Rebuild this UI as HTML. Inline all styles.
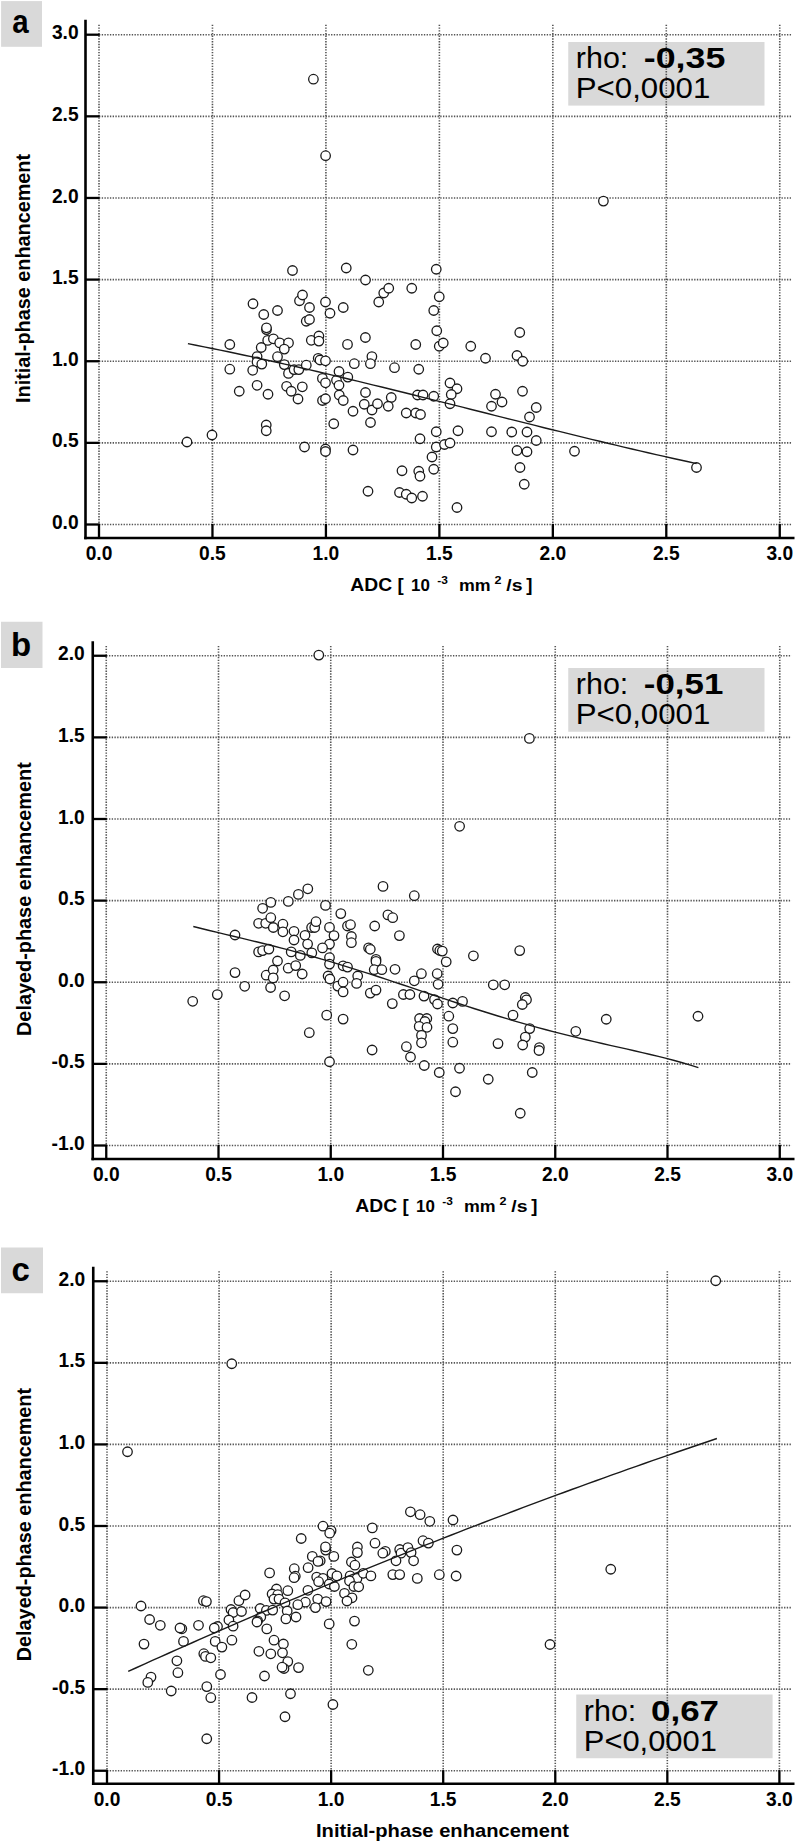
<!DOCTYPE html>
<html><head><meta charset="utf-8"><title>Scatter plots</title>
<style>
html,body{margin:0;padding:0;background:#fff;}
svg{display:block;}
text{font-family:"Liberation Sans", sans-serif;fill:#000;}
.tk{font-size:20px;font-weight:bold;}
.ttl{font-size:18.5px;font-weight:bold;}
circle{fill:#fff;stroke:#1a1a1a;stroke-width:1.3;}
</style></head><body>
<svg width="796" height="1843" viewBox="0 0 796 1843">
<rect width="796" height="1843" fill="#fff"/>
<rect x="1.1" y="1.1" width="40.9" height="45.7" fill="#d9d9d9"/>
<text x="12.2" y="32.7" font-size="33" font-weight="bold" textLength="16.4" lengthAdjust="spacingAndGlyphs">a</text>
<rect x="568.25" y="42" width="196.25" height="63.6" fill="#d9d9d9"/>
<line x1="99" y1="524.5" x2="791.5" y2="524.5" stroke="#555" stroke-width="1.6" stroke-dasharray="1.35 1.38"/>
<line x1="99" y1="442.87" x2="791.5" y2="442.87" stroke="#555" stroke-width="1.6" stroke-dasharray="1.35 1.38"/>
<line x1="99" y1="361.23" x2="791.5" y2="361.23" stroke="#555" stroke-width="1.6" stroke-dasharray="1.35 1.38"/>
<line x1="99" y1="279.6" x2="791.5" y2="279.6" stroke="#555" stroke-width="1.6" stroke-dasharray="1.35 1.38"/>
<line x1="99" y1="197.97" x2="791.5" y2="197.97" stroke="#555" stroke-width="1.6" stroke-dasharray="1.35 1.38"/>
<line x1="99" y1="116.33" x2="791.5" y2="116.33" stroke="#555" stroke-width="1.6" stroke-dasharray="1.35 1.38"/>
<line x1="99" y1="34.7" x2="791.5" y2="34.7" stroke="#555" stroke-width="1.6" stroke-dasharray="1.35 1.38"/>
<line x1="99" y1="24.7" x2="99" y2="524.5" stroke="#555" stroke-width="1.6" stroke-dasharray="1.35 1.38"/>
<line x1="212.46" y1="24.7" x2="212.46" y2="524.5" stroke="#555" stroke-width="1.6" stroke-dasharray="1.35 1.38"/>
<line x1="325.92" y1="24.7" x2="325.92" y2="524.5" stroke="#555" stroke-width="1.6" stroke-dasharray="1.35 1.38"/>
<line x1="439.38" y1="24.7" x2="439.38" y2="524.5" stroke="#555" stroke-width="1.6" stroke-dasharray="1.35 1.38"/>
<line x1="552.83" y1="24.7" x2="552.83" y2="524.5" stroke="#555" stroke-width="1.6" stroke-dasharray="1.35 1.38"/>
<line x1="666.29" y1="24.7" x2="666.29" y2="524.5" stroke="#555" stroke-width="1.6" stroke-dasharray="1.35 1.38"/>
<line x1="779.75" y1="24.7" x2="779.75" y2="524.5" stroke="#555" stroke-width="1.6" stroke-dasharray="1.35 1.38"/>
<text x="575.8" y="68.25" font-size="29" textLength="52.5" lengthAdjust="spacingAndGlyphs">rho:</text><text x="643.8" y="68.25" font-size="29" font-weight="bold" textLength="81.5" lengthAdjust="spacingAndGlyphs">-0,35</text><text x="575.8" y="97.5" font-size="29" textLength="134.5" lengthAdjust="spacingAndGlyphs">P&lt;0,0001</text>
<circle cx="313.4" cy="79.2" r="4.75"/>
<circle cx="325.6" cy="155.7" r="4.75"/>
<circle cx="603.4" cy="201.1" r="4.75"/>
<circle cx="292.5" cy="270.5" r="4.75"/>
<circle cx="253" cy="303.75" r="4.75"/>
<circle cx="277.5" cy="310.5" r="4.75"/>
<circle cx="263.75" cy="314.5" r="4.75"/>
<circle cx="266.5" cy="329.6" r="4.75"/>
<circle cx="266.5" cy="327.8" r="4.75"/>
<circle cx="229.8" cy="344.5" r="4.75"/>
<circle cx="267.7" cy="340.4" r="4.75"/>
<circle cx="273.4" cy="338.8" r="4.75"/>
<circle cx="279.7" cy="342.9" r="4.75"/>
<circle cx="288.5" cy="342.9" r="4.75"/>
<circle cx="261.2" cy="347.5" r="4.75"/>
<circle cx="284.3" cy="349.1" r="4.75"/>
<circle cx="257.1" cy="356.6" r="4.75"/>
<circle cx="277.5" cy="356.7" r="4.75"/>
<circle cx="257" cy="362" r="4.75"/>
<circle cx="261.8" cy="364.1" r="4.75"/>
<circle cx="229.8" cy="369.2" r="4.75"/>
<circle cx="252.7" cy="370.3" r="4.75"/>
<circle cx="284.3" cy="364.6" r="4.75"/>
<circle cx="288.5" cy="373.4" r="4.75"/>
<circle cx="294.1" cy="369.6" r="4.75"/>
<circle cx="298.8" cy="369.6" r="4.75"/>
<circle cx="257.1" cy="385.3" r="4.75"/>
<circle cx="286.6" cy="386.3" r="4.75"/>
<circle cx="346.25" cy="268" r="4.75"/>
<circle cx="365.5" cy="280" r="4.75"/>
<circle cx="436.25" cy="269.25" r="4.75"/>
<circle cx="299.5" cy="300.75" r="4.75"/>
<circle cx="302.5" cy="295" r="4.75"/>
<circle cx="309.5" cy="307.5" r="4.75"/>
<circle cx="325.5" cy="302" r="4.75"/>
<circle cx="330" cy="313.25" r="4.75"/>
<circle cx="343.25" cy="307.5" r="4.75"/>
<circle cx="306.25" cy="321.25" r="4.75"/>
<circle cx="309.5" cy="319.5" r="4.75"/>
<circle cx="378.75" cy="302" r="4.75"/>
<circle cx="383.75" cy="293" r="4.75"/>
<circle cx="388.75" cy="288.25" r="4.75"/>
<circle cx="411.75" cy="288.25" r="4.75"/>
<circle cx="439.25" cy="296.75" r="4.75"/>
<circle cx="433.75" cy="310.5" r="4.75"/>
<circle cx="436.75" cy="330.75" r="4.75"/>
<circle cx="311.3" cy="340.3" r="4.75"/>
<circle cx="318.9" cy="336" r="4.75"/>
<circle cx="318.9" cy="341.1" r="4.75"/>
<circle cx="347.5" cy="344.4" r="4.75"/>
<circle cx="365.4" cy="337.5" r="4.75"/>
<circle cx="415.75" cy="344.5" r="4.75"/>
<circle cx="439.25" cy="346.25" r="4.75"/>
<circle cx="443.25" cy="343" r="4.75"/>
<circle cx="470.75" cy="346.25" r="4.75"/>
<circle cx="485.5" cy="358.25" r="4.75"/>
<circle cx="318.2" cy="358.3" r="4.75"/>
<circle cx="320" cy="360" r="4.75"/>
<circle cx="325.5" cy="360.8" r="4.75"/>
<circle cx="306.3" cy="365.2" r="4.75"/>
<circle cx="354.3" cy="363.7" r="4.75"/>
<circle cx="371.9" cy="356.6" r="4.75"/>
<circle cx="370.4" cy="363.7" r="4.75"/>
<circle cx="394.5" cy="367.7" r="4.75"/>
<circle cx="418.75" cy="369.25" r="4.75"/>
<circle cx="339" cy="371.5" r="4.75"/>
<circle cx="322.4" cy="378.4" r="4.75"/>
<circle cx="325.5" cy="382.8" r="4.75"/>
<circle cx="347.8" cy="377.1" r="4.75"/>
<circle cx="336.5" cy="380.3" r="4.75"/>
<circle cx="339" cy="385.3" r="4.75"/>
<circle cx="302.3" cy="386.8" r="4.75"/>
<circle cx="450" cy="383" r="4.75"/>
<circle cx="457" cy="388.75" r="4.75"/>
<circle cx="519.75" cy="332.5" r="4.75"/>
<circle cx="517" cy="355.5" r="4.75"/>
<circle cx="522.75" cy="361.25" r="4.75"/>
<circle cx="239.25" cy="391.25" r="4.75"/>
<circle cx="268" cy="394.25" r="4.75"/>
<circle cx="291.25" cy="391.25" r="4.75"/>
<circle cx="298" cy="399" r="4.75"/>
<circle cx="266.25" cy="425" r="4.75"/>
<circle cx="266.25" cy="430.75" r="4.75"/>
<circle cx="212" cy="435" r="4.75"/>
<circle cx="187" cy="442" r="4.75"/>
<circle cx="322.5" cy="400.5" r="4.75"/>
<circle cx="325.5" cy="398.75" r="4.75"/>
<circle cx="339.25" cy="395" r="4.75"/>
<circle cx="343.25" cy="400.5" r="4.75"/>
<circle cx="365.5" cy="392.5" r="4.75"/>
<circle cx="353" cy="411.25" r="4.75"/>
<circle cx="364.25" cy="404.25" r="4.75"/>
<circle cx="372" cy="410" r="4.75"/>
<circle cx="377.5" cy="403.75" r="4.75"/>
<circle cx="391.25" cy="397.5" r="4.75"/>
<circle cx="388.25" cy="406.25" r="4.75"/>
<circle cx="370.5" cy="422.5" r="4.75"/>
<circle cx="333.75" cy="423.75" r="4.75"/>
<circle cx="406.25" cy="413" r="4.75"/>
<circle cx="415.75" cy="413" r="4.75"/>
<circle cx="420.5" cy="414.5" r="4.75"/>
<circle cx="417.5" cy="395" r="4.75"/>
<circle cx="423" cy="395" r="4.75"/>
<circle cx="433.75" cy="396.25" r="4.75"/>
<circle cx="451.25" cy="394.5" r="4.75"/>
<circle cx="450" cy="403.75" r="4.75"/>
<circle cx="436.25" cy="431.75" r="4.75"/>
<circle cx="458" cy="430.75" r="4.75"/>
<circle cx="420" cy="438.75" r="4.75"/>
<circle cx="304.5" cy="447" r="4.75"/>
<circle cx="325.5" cy="449" r="4.75"/>
<circle cx="325.5" cy="451.5" r="4.75"/>
<circle cx="353" cy="450" r="4.75"/>
<circle cx="436.25" cy="447" r="4.75"/>
<circle cx="444.5" cy="444.5" r="4.75"/>
<circle cx="450" cy="443" r="4.75"/>
<circle cx="432" cy="457" r="4.75"/>
<circle cx="433.75" cy="469.25" r="4.75"/>
<circle cx="402" cy="470.75" r="4.75"/>
<circle cx="418.75" cy="471.25" r="4.75"/>
<circle cx="420" cy="476.25" r="4.75"/>
<circle cx="368" cy="491.25" r="4.75"/>
<circle cx="399.5" cy="492.5" r="4.75"/>
<circle cx="406.25" cy="494.25" r="4.75"/>
<circle cx="411.75" cy="498" r="4.75"/>
<circle cx="422.5" cy="496.25" r="4.75"/>
<circle cx="457" cy="507.5" r="4.75"/>
<circle cx="495.5" cy="394.25" r="4.75"/>
<circle cx="491.5" cy="406.25" r="4.75"/>
<circle cx="522.5" cy="391.25" r="4.75"/>
<circle cx="502" cy="402" r="4.75"/>
<circle cx="536.25" cy="407.5" r="4.75"/>
<circle cx="529.5" cy="417" r="4.75"/>
<circle cx="491.5" cy="431.75" r="4.75"/>
<circle cx="511.75" cy="432" r="4.75"/>
<circle cx="527" cy="432" r="4.75"/>
<circle cx="536.25" cy="440.5" r="4.75"/>
<circle cx="517" cy="450.5" r="4.75"/>
<circle cx="527" cy="451.75" r="4.75"/>
<circle cx="574.5" cy="451.25" r="4.75"/>
<circle cx="520" cy="467.5" r="4.75"/>
<circle cx="524.25" cy="484.25" r="4.75"/>
<circle cx="696.5" cy="467.5" r="4.75"/>
<polyline points="187.9,343.68 195.97,345.25 204.05,346.85 212.12,348.47 220.19,350.12 228.27,351.79 236.34,353.49 244.41,355.2 252.48,356.94 260.56,358.7 268.63,360.48 276.7,362.28 284.78,364.09 292.85,365.93 300.92,367.78 309,369.65 317.07,371.53 325.14,373.42 333.21,375.34 341.29,377.26 349.36,379.2 357.43,381.14 365.51,383.1 373.58,385.07 381.65,387.05 389.73,389.04 397.8,391.03 405.87,393.04 413.94,395.05 422.02,397.06 430.09,399.08 438.16,401.1 446.24,403.13 454.31,405.16 462.38,407.19 470.46,409.22 478.53,411.26 486.6,413.29 494.67,415.32 502.75,417.35 510.82,419.38 518.89,421.4 526.97,423.42 535.04,425.44 543.11,427.45 551.19,429.45 559.26,431.44 567.33,433.43 575.4,435.41 583.48,437.38 591.55,439.34 599.62,441.29 607.7,443.23 615.77,445.15 623.84,447.07 631.92,448.97 639.99,450.85 648.06,452.72 656.13,454.57 664.21,456.41 672.28,458.22 680.35,460.02 688.43,461.8 696.5,463.56" fill="none" stroke="#1a1a1a" stroke-width="1.4"/>
<line x1="85.5" y1="19.8" x2="85.5" y2="539.3" stroke="#000" stroke-width="2.6"/>
<line x1="84.2" y1="538" x2="794.5" y2="538" stroke="#000" stroke-width="2.6"/>
<line x1="85.5" y1="524.5" x2="99.6" y2="524.5" stroke="#000" stroke-width="2.3"/>
<line x1="85.5" y1="442.87" x2="99.6" y2="442.87" stroke="#000" stroke-width="2.3"/>
<line x1="85.5" y1="361.23" x2="99.6" y2="361.23" stroke="#000" stroke-width="2.3"/>
<line x1="85.5" y1="279.6" x2="99.6" y2="279.6" stroke="#000" stroke-width="2.3"/>
<line x1="85.5" y1="197.97" x2="99.6" y2="197.97" stroke="#000" stroke-width="2.3"/>
<line x1="85.5" y1="116.33" x2="99.6" y2="116.33" stroke="#000" stroke-width="2.3"/>
<line x1="85.5" y1="34.7" x2="99.6" y2="34.7" stroke="#000" stroke-width="2.3"/>
<line x1="99" y1="538" x2="99" y2="523.9" stroke="#000" stroke-width="2.3"/>
<line x1="212.46" y1="538" x2="212.46" y2="523.9" stroke="#000" stroke-width="2.3"/>
<line x1="325.92" y1="538" x2="325.92" y2="523.9" stroke="#000" stroke-width="2.3"/>
<line x1="439.38" y1="538" x2="439.38" y2="523.9" stroke="#000" stroke-width="2.3"/>
<line x1="552.83" y1="538" x2="552.83" y2="523.9" stroke="#000" stroke-width="2.3"/>
<line x1="666.29" y1="538" x2="666.29" y2="523.9" stroke="#000" stroke-width="2.3"/>
<line x1="779.75" y1="538" x2="779.75" y2="523.9" stroke="#000" stroke-width="2.3"/>
<text x="78.6" y="529.1" text-anchor="end" class="tk" textLength="26.7" lengthAdjust="spacingAndGlyphs">0.0</text>
<text x="78.6" y="447.47" text-anchor="end" class="tk" textLength="26.7" lengthAdjust="spacingAndGlyphs">0.5</text>
<text x="78.6" y="365.83" text-anchor="end" class="tk" textLength="26.7" lengthAdjust="spacingAndGlyphs">1.0</text>
<text x="78.6" y="284.2" text-anchor="end" class="tk" textLength="26.7" lengthAdjust="spacingAndGlyphs">1.5</text>
<text x="78.6" y="202.57" text-anchor="end" class="tk" textLength="26.7" lengthAdjust="spacingAndGlyphs">2.0</text>
<text x="78.6" y="120.93" text-anchor="end" class="tk" textLength="26.7" lengthAdjust="spacingAndGlyphs">2.5</text>
<text x="78.6" y="39.3" text-anchor="end" class="tk" textLength="26.7" lengthAdjust="spacingAndGlyphs">3.0</text>
<text x="99" y="559.7" text-anchor="middle" class="tk" textLength="26.7" lengthAdjust="spacingAndGlyphs">0.0</text>
<text x="212.46" y="559.7" text-anchor="middle" class="tk" textLength="26.7" lengthAdjust="spacingAndGlyphs">0.5</text>
<text x="325.92" y="559.7" text-anchor="middle" class="tk" textLength="26.7" lengthAdjust="spacingAndGlyphs">1.0</text>
<text x="439.38" y="559.7" text-anchor="middle" class="tk" textLength="26.7" lengthAdjust="spacingAndGlyphs">1.5</text>
<text x="552.83" y="559.7" text-anchor="middle" class="tk" textLength="26.7" lengthAdjust="spacingAndGlyphs">2.0</text>
<text x="666.29" y="559.7" text-anchor="middle" class="tk" textLength="26.7" lengthAdjust="spacingAndGlyphs">2.5</text>
<text x="779.75" y="559.7" text-anchor="middle" class="tk" textLength="26.7" lengthAdjust="spacingAndGlyphs">3.0</text>
<text transform="translate(30.3,402.9) rotate(-90)" x="0" y="0" class="ttl" style="font-size:19.5px" textLength="249" lengthAdjust="spacingAndGlyphs">Initial-phase enhancement</text>
<text x="350.35" y="591.25" class="ttl" textLength="41.8" lengthAdjust="spacingAndGlyphs">ADC</text><text x="397.45" y="591.25" class="ttl" textLength="6.2" lengthAdjust="spacingAndGlyphs">[</text><text x="411.05" y="591.25" class="ttl" style="font-size:16.5px" textLength="18.8" lengthAdjust="spacingAndGlyphs">10</text><text x="437.25" y="584.45" class="ttl" style="font-size:11px" textLength="10.6" lengthAdjust="spacingAndGlyphs">-3</text><text x="459.05" y="591.25" class="ttl" style="font-size:16.5px" textLength="31.6" lengthAdjust="spacingAndGlyphs">mm</text><text x="494.45" y="584.45" class="ttl" style="font-size:11px" textLength="7.0" lengthAdjust="spacingAndGlyphs">2</text><text x="506.25" y="591.25" class="ttl" style="font-size:16.5px" textLength="16.2" lengthAdjust="spacingAndGlyphs">/s</text><text x="526.25" y="591.25" class="ttl" textLength="6.2" lengthAdjust="spacingAndGlyphs">]</text>
<rect x="1" y="621.75" width="41.5" height="46.25" fill="#d9d9d9"/>
<text x="11" y="655.75" font-size="33" font-weight="bold">b</text>
<rect x="568.25" y="668" width="196.25" height="63.75" fill="#d9d9d9"/>
<line x1="106.25" y1="1145.5" x2="791.5" y2="1145.5" stroke="#555" stroke-width="1.6" stroke-dasharray="1.35 1.38"/>
<line x1="106.25" y1="1063.88" x2="791.5" y2="1063.88" stroke="#555" stroke-width="1.6" stroke-dasharray="1.35 1.38"/>
<line x1="106.25" y1="982.25" x2="791.5" y2="982.25" stroke="#555" stroke-width="1.6" stroke-dasharray="1.35 1.38"/>
<line x1="106.25" y1="900.62" x2="791.5" y2="900.62" stroke="#555" stroke-width="1.6" stroke-dasharray="1.35 1.38"/>
<line x1="106.25" y1="819" x2="791.5" y2="819" stroke="#555" stroke-width="1.6" stroke-dasharray="1.35 1.38"/>
<line x1="106.25" y1="737.38" x2="791.5" y2="737.38" stroke="#555" stroke-width="1.6" stroke-dasharray="1.35 1.38"/>
<line x1="106.25" y1="655.75" x2="791.5" y2="655.75" stroke="#555" stroke-width="1.6" stroke-dasharray="1.35 1.38"/>
<line x1="106.25" y1="646" x2="106.25" y2="1145.5" stroke="#555" stroke-width="1.6" stroke-dasharray="1.35 1.38"/>
<line x1="218.5" y1="646" x2="218.5" y2="1145.5" stroke="#555" stroke-width="1.6" stroke-dasharray="1.35 1.38"/>
<line x1="330.75" y1="646" x2="330.75" y2="1145.5" stroke="#555" stroke-width="1.6" stroke-dasharray="1.35 1.38"/>
<line x1="443" y1="646" x2="443" y2="1145.5" stroke="#555" stroke-width="1.6" stroke-dasharray="1.35 1.38"/>
<line x1="555.25" y1="646" x2="555.25" y2="1145.5" stroke="#555" stroke-width="1.6" stroke-dasharray="1.35 1.38"/>
<line x1="667.5" y1="646" x2="667.5" y2="1145.5" stroke="#555" stroke-width="1.6" stroke-dasharray="1.35 1.38"/>
<line x1="779.75" y1="646" x2="779.75" y2="1145.5" stroke="#555" stroke-width="1.6" stroke-dasharray="1.35 1.38"/>
<text x="575.8" y="694.25" font-size="29" textLength="52.5" lengthAdjust="spacingAndGlyphs">rho:</text><text x="643.8" y="694.25" font-size="29" font-weight="bold" textLength="79.5" lengthAdjust="spacingAndGlyphs">-0,51</text><text x="575.8" y="723.75" font-size="29" textLength="134.5" lengthAdjust="spacingAndGlyphs">P&lt;0,0001</text>
<circle cx="318.8" cy="655.1" r="4.75"/>
<circle cx="529.4" cy="738.4" r="4.75"/>
<circle cx="459.6" cy="826.3" r="4.75"/>
<circle cx="262.6" cy="908.3" r="4.75"/>
<circle cx="270.8" cy="902.4" r="4.75"/>
<circle cx="288.3" cy="901.4" r="4.75"/>
<circle cx="298.4" cy="894.4" r="4.75"/>
<circle cx="307.8" cy="888.8" r="4.75"/>
<circle cx="258.6" cy="923.3" r="4.75"/>
<circle cx="265.7" cy="923.3" r="4.75"/>
<circle cx="270.8" cy="917.7" r="4.75"/>
<circle cx="273.3" cy="927.5" r="4.75"/>
<circle cx="282.9" cy="924.2" r="4.75"/>
<circle cx="282.9" cy="931.8" r="4.75"/>
<circle cx="294" cy="931.3" r="4.75"/>
<circle cx="294" cy="940" r="4.75"/>
<circle cx="305" cy="935.3" r="4.75"/>
<circle cx="307.6" cy="944.1" r="4.75"/>
<circle cx="311.6" cy="927.5" r="4.75"/>
<circle cx="314.7" cy="927.5" r="4.75"/>
<circle cx="316" cy="921.7" r="4.75"/>
<circle cx="258.6" cy="951.9" r="4.75"/>
<circle cx="262.6" cy="950.6" r="4.75"/>
<circle cx="268.9" cy="949.1" r="4.75"/>
<circle cx="291.2" cy="951.9" r="4.75"/>
<circle cx="300.3" cy="955.4" r="4.75"/>
<circle cx="311.8" cy="952.9" r="4.75"/>
<circle cx="277.5" cy="961" r="4.75"/>
<circle cx="235" cy="935" r="4.75"/>
<circle cx="383" cy="886.4" r="4.75"/>
<circle cx="414.3" cy="895.7" r="4.75"/>
<circle cx="325.5" cy="905.4" r="4.75"/>
<circle cx="340.8" cy="913.6" r="4.75"/>
<circle cx="347.5" cy="926" r="4.75"/>
<circle cx="350.5" cy="924.7" r="4.75"/>
<circle cx="351.4" cy="936.5" r="4.75"/>
<circle cx="351.4" cy="942.7" r="4.75"/>
<circle cx="329.5" cy="927.4" r="4.75"/>
<circle cx="334" cy="935.6" r="4.75"/>
<circle cx="329.5" cy="944.1" r="4.75"/>
<circle cx="322.5" cy="947.9" r="4.75"/>
<circle cx="329.5" cy="957.6" r="4.75"/>
<circle cx="374.7" cy="926" r="4.75"/>
<circle cx="387.9" cy="914.9" r="4.75"/>
<circle cx="392.7" cy="917.7" r="4.75"/>
<circle cx="399.4" cy="935.6" r="4.75"/>
<circle cx="368.6" cy="947.9" r="4.75"/>
<circle cx="370.3" cy="949.3" r="4.75"/>
<circle cx="376" cy="959.4" r="4.75"/>
<circle cx="437.5" cy="949" r="4.75"/>
<circle cx="439.8" cy="950.5" r="4.75"/>
<circle cx="442.3" cy="951.1" r="4.75"/>
<circle cx="473.4" cy="955.8" r="4.75"/>
<circle cx="519.7" cy="950.6" r="4.75"/>
<circle cx="235" cy="972.6" r="4.75"/>
<circle cx="266.2" cy="975.2" r="4.75"/>
<circle cx="273.2" cy="970" r="4.75"/>
<circle cx="273.2" cy="977.9" r="4.75"/>
<circle cx="288.2" cy="968.2" r="4.75"/>
<circle cx="295.7" cy="965.6" r="4.75"/>
<circle cx="302.2" cy="974" r="4.75"/>
<circle cx="244.7" cy="986.3" r="4.75"/>
<circle cx="270.6" cy="987.5" r="4.75"/>
<circle cx="217.3" cy="994.6" r="4.75"/>
<circle cx="192.7" cy="1001.3" r="4.75"/>
<circle cx="284.6" cy="995.8" r="4.75"/>
<circle cx="309.3" cy="1032.7" r="4.75"/>
<circle cx="329.5" cy="964.1" r="4.75"/>
<circle cx="343.1" cy="965.8" r="4.75"/>
<circle cx="347.5" cy="967.1" r="4.75"/>
<circle cx="328.1" cy="976" r="4.75"/>
<circle cx="329.9" cy="979" r="4.75"/>
<circle cx="337.8" cy="986.1" r="4.75"/>
<circle cx="343.1" cy="982.2" r="4.75"/>
<circle cx="343.1" cy="991.9" r="4.75"/>
<circle cx="357.7" cy="976" r="4.75"/>
<circle cx="356.6" cy="983.4" r="4.75"/>
<circle cx="376" cy="961.4" r="4.75"/>
<circle cx="374.2" cy="969.7" r="4.75"/>
<circle cx="381.8" cy="969.7" r="4.75"/>
<circle cx="395" cy="969.3" r="4.75"/>
<circle cx="370.3" cy="993.1" r="4.75"/>
<circle cx="376" cy="990.1" r="4.75"/>
<circle cx="392.3" cy="1003.6" r="4.75"/>
<circle cx="403.4" cy="994.5" r="4.75"/>
<circle cx="409.9" cy="994.5" r="4.75"/>
<circle cx="414.3" cy="980.8" r="4.75"/>
<circle cx="421.4" cy="973.7" r="4.75"/>
<circle cx="424" cy="996.1" r="4.75"/>
<circle cx="434.5" cy="999.6" r="4.75"/>
<circle cx="437.5" cy="1004" r="4.75"/>
<circle cx="437.2" cy="973.7" r="4.75"/>
<circle cx="438.1" cy="984.3" r="4.75"/>
<circle cx="326.7" cy="1015.1" r="4.75"/>
<circle cx="343.1" cy="1019.1" r="4.75"/>
<circle cx="419.6" cy="1018.5" r="4.75"/>
<circle cx="426.8" cy="1018.5" r="4.75"/>
<circle cx="424.9" cy="1021.5" r="4.75"/>
<circle cx="419.2" cy="1026.4" r="4.75"/>
<circle cx="427" cy="1027.3" r="4.75"/>
<circle cx="421.5" cy="1035.4" r="4.75"/>
<circle cx="421.5" cy="1042.8" r="4.75"/>
<circle cx="406.4" cy="1046.7" r="4.75"/>
<circle cx="372.1" cy="1050" r="4.75"/>
<circle cx="446.2" cy="961.8" r="4.75"/>
<circle cx="493.3" cy="984.8" r="4.75"/>
<circle cx="504.7" cy="984.8" r="4.75"/>
<circle cx="525.3" cy="997.5" r="4.75"/>
<circle cx="526.5" cy="999.8" r="4.75"/>
<circle cx="522.3" cy="1004.5" r="4.75"/>
<circle cx="452.8" cy="1003" r="4.75"/>
<circle cx="462.5" cy="1001.4" r="4.75"/>
<circle cx="448.8" cy="1016.2" r="4.75"/>
<circle cx="452.8" cy="1028.6" r="4.75"/>
<circle cx="452.8" cy="1042.2" r="4.75"/>
<circle cx="513" cy="1015.1" r="4.75"/>
<circle cx="529.7" cy="1028.6" r="4.75"/>
<circle cx="525.3" cy="1037.1" r="4.75"/>
<circle cx="522.7" cy="1045" r="4.75"/>
<circle cx="498" cy="1043.6" r="4.75"/>
<circle cx="539.4" cy="1047.6" r="4.75"/>
<circle cx="539" cy="1050.5" r="4.75"/>
<circle cx="575.8" cy="1031.3" r="4.75"/>
<circle cx="329.5" cy="1061.75" r="4.75"/>
<circle cx="410.5" cy="1057" r="4.75"/>
<circle cx="424.25" cy="1065.5" r="4.75"/>
<circle cx="439.25" cy="1072.5" r="4.75"/>
<circle cx="459.5" cy="1068.25" r="4.75"/>
<circle cx="455.5" cy="1091.75" r="4.75"/>
<circle cx="488.25" cy="1079.25" r="4.75"/>
<circle cx="532.25" cy="1072.5" r="4.75"/>
<circle cx="520.25" cy="1113.25" r="4.75"/>
<circle cx="606.25" cy="1019.25" r="4.75"/>
<circle cx="698" cy="1016.25" r="4.75"/>
<polyline points="193.3,926.55 201.32,928.55 209.33,930.52 217.35,932.44 225.37,934.35 233.39,936.26 241.4,938.17 249.42,940.09 257.44,942.04 265.46,944.02 273.47,946.03 281.49,948.09 289.51,950.19 297.53,952.34 305.54,954.54 313.56,956.79 321.58,959.1 329.6,961.45 337.61,963.85 345.63,966.3 353.65,968.8 361.67,971.33 369.68,973.9 377.7,976.51 385.72,979.14 393.74,981.8 401.75,984.47 409.77,987.16 417.79,989.86 425.81,992.56 433.82,995.25 441.84,997.94 449.86,1000.6 457.88,1003.25 465.89,1005.87 473.91,1008.47 481.93,1011.02 489.95,1013.54 497.96,1016.01 505.98,1018.43 514,1020.81 522.02,1023.13 530.03,1025.4 538.05,1027.61 546.07,1029.77 554.09,1031.87 562.1,1033.92 570.12,1035.92 578.14,1037.87 586.16,1039.78 594.17,1041.65 602.19,1043.5 610.21,1045.32 618.23,1047.13 626.24,1048.94 634.26,1050.75 642.28,1052.6 650.3,1054.48 658.31,1056.41 666.33,1058.42 674.35,1060.53 682.37,1062.75 690.38,1065.11 698.4,1067.64" fill="none" stroke="#1a1a1a" stroke-width="1.4"/>
<line x1="92.75" y1="641.25" x2="92.75" y2="1160.3" stroke="#000" stroke-width="2.6"/>
<line x1="91.45" y1="1159" x2="794.5" y2="1159" stroke="#000" stroke-width="2.6"/>
<line x1="92.75" y1="1145.5" x2="106.85" y2="1145.5" stroke="#000" stroke-width="2.3"/>
<line x1="92.75" y1="1063.88" x2="106.85" y2="1063.88" stroke="#000" stroke-width="2.3"/>
<line x1="92.75" y1="982.25" x2="106.85" y2="982.25" stroke="#000" stroke-width="2.3"/>
<line x1="92.75" y1="900.62" x2="106.85" y2="900.62" stroke="#000" stroke-width="2.3"/>
<line x1="92.75" y1="819" x2="106.85" y2="819" stroke="#000" stroke-width="2.3"/>
<line x1="92.75" y1="737.38" x2="106.85" y2="737.38" stroke="#000" stroke-width="2.3"/>
<line x1="92.75" y1="655.75" x2="106.85" y2="655.75" stroke="#000" stroke-width="2.3"/>
<line x1="106.25" y1="1159" x2="106.25" y2="1144.9" stroke="#000" stroke-width="2.3"/>
<line x1="218.5" y1="1159" x2="218.5" y2="1144.9" stroke="#000" stroke-width="2.3"/>
<line x1="330.75" y1="1159" x2="330.75" y2="1144.9" stroke="#000" stroke-width="2.3"/>
<line x1="443" y1="1159" x2="443" y2="1144.9" stroke="#000" stroke-width="2.3"/>
<line x1="555.25" y1="1159" x2="555.25" y2="1144.9" stroke="#000" stroke-width="2.3"/>
<line x1="667.5" y1="1159" x2="667.5" y2="1144.9" stroke="#000" stroke-width="2.3"/>
<line x1="779.75" y1="1159" x2="779.75" y2="1144.9" stroke="#000" stroke-width="2.3"/>
<text x="84.8" y="1150.1" text-anchor="end" class="tk" textLength="33.2" lengthAdjust="spacingAndGlyphs">-1.0</text>
<text x="84.8" y="1068.47" text-anchor="end" class="tk" textLength="33.2" lengthAdjust="spacingAndGlyphs">-0.5</text>
<text x="84.8" y="986.85" text-anchor="end" class="tk" textLength="26.7" lengthAdjust="spacingAndGlyphs">0.0</text>
<text x="84.8" y="905.23" text-anchor="end" class="tk" textLength="26.7" lengthAdjust="spacingAndGlyphs">0.5</text>
<text x="84.8" y="823.6" text-anchor="end" class="tk" textLength="26.7" lengthAdjust="spacingAndGlyphs">1.0</text>
<text x="84.8" y="741.98" text-anchor="end" class="tk" textLength="26.7" lengthAdjust="spacingAndGlyphs">1.5</text>
<text x="84.8" y="660.35" text-anchor="end" class="tk" textLength="26.7" lengthAdjust="spacingAndGlyphs">2.0</text>
<text x="106.25" y="1181" text-anchor="middle" class="tk" textLength="26.7" lengthAdjust="spacingAndGlyphs">0.0</text>
<text x="218.5" y="1181" text-anchor="middle" class="tk" textLength="26.7" lengthAdjust="spacingAndGlyphs">0.5</text>
<text x="330.75" y="1181" text-anchor="middle" class="tk" textLength="26.7" lengthAdjust="spacingAndGlyphs">1.0</text>
<text x="443" y="1181" text-anchor="middle" class="tk" textLength="26.7" lengthAdjust="spacingAndGlyphs">1.5</text>
<text x="555.25" y="1181" text-anchor="middle" class="tk" textLength="26.7" lengthAdjust="spacingAndGlyphs">2.0</text>
<text x="667.5" y="1181" text-anchor="middle" class="tk" textLength="26.7" lengthAdjust="spacingAndGlyphs">2.5</text>
<text x="779.75" y="1181" text-anchor="middle" class="tk" textLength="26.7" lengthAdjust="spacingAndGlyphs">3.0</text>
<text transform="translate(30.6,1036) rotate(-90)" x="0" y="0" class="ttl" style="font-size:19.5px" textLength="273.8" lengthAdjust="spacingAndGlyphs">Delayed-phase enhancement</text>
<text x="355.35" y="1212" class="ttl" textLength="41.8" lengthAdjust="spacingAndGlyphs">ADC</text><text x="402.45" y="1212" class="ttl" textLength="6.2" lengthAdjust="spacingAndGlyphs">[</text><text x="416.05" y="1212" class="ttl" style="font-size:16.5px" textLength="18.8" lengthAdjust="spacingAndGlyphs">10</text><text x="442.25" y="1205.2" class="ttl" style="font-size:11px" textLength="10.6" lengthAdjust="spacingAndGlyphs">-3</text><text x="464.05" y="1212" class="ttl" style="font-size:16.5px" textLength="31.6" lengthAdjust="spacingAndGlyphs">mm</text><text x="499.45" y="1205.2" class="ttl" style="font-size:11px" textLength="7.0" lengthAdjust="spacingAndGlyphs">2</text><text x="511.25" y="1212" class="ttl" style="font-size:16.5px" textLength="16.2" lengthAdjust="spacingAndGlyphs">/s</text><text x="531.25" y="1212" class="ttl" textLength="6.2" lengthAdjust="spacingAndGlyphs">]</text>
<rect x="1" y="1247.5" width="42" height="45.75" fill="#d9d9d9"/>
<text x="11.5" y="1281" font-size="33" font-weight="bold">c</text>
<rect x="576.25" y="1694.5" width="196.35" height="63.75" fill="#d9d9d9"/>
<line x1="107" y1="1770.75" x2="791.5" y2="1770.75" stroke="#555" stroke-width="1.6" stroke-dasharray="1.35 1.38"/>
<line x1="107" y1="1689.17" x2="791.5" y2="1689.17" stroke="#555" stroke-width="1.6" stroke-dasharray="1.35 1.38"/>
<line x1="107" y1="1607.58" x2="791.5" y2="1607.58" stroke="#555" stroke-width="1.6" stroke-dasharray="1.35 1.38"/>
<line x1="107" y1="1526" x2="791.5" y2="1526" stroke="#555" stroke-width="1.6" stroke-dasharray="1.35 1.38"/>
<line x1="107" y1="1444.42" x2="791.5" y2="1444.42" stroke="#555" stroke-width="1.6" stroke-dasharray="1.35 1.38"/>
<line x1="107" y1="1362.83" x2="791.5" y2="1362.83" stroke="#555" stroke-width="1.6" stroke-dasharray="1.35 1.38"/>
<line x1="107" y1="1281.25" x2="791.5" y2="1281.25" stroke="#555" stroke-width="1.6" stroke-dasharray="1.35 1.38"/>
<line x1="107" y1="1271.25" x2="107" y2="1770.75" stroke="#555" stroke-width="1.6" stroke-dasharray="1.35 1.38"/>
<line x1="219.07" y1="1271.25" x2="219.07" y2="1770.75" stroke="#555" stroke-width="1.6" stroke-dasharray="1.35 1.38"/>
<line x1="331.13" y1="1271.25" x2="331.13" y2="1770.75" stroke="#555" stroke-width="1.6" stroke-dasharray="1.35 1.38"/>
<line x1="443.2" y1="1271.25" x2="443.2" y2="1770.75" stroke="#555" stroke-width="1.6" stroke-dasharray="1.35 1.38"/>
<line x1="555.27" y1="1271.25" x2="555.27" y2="1770.75" stroke="#555" stroke-width="1.6" stroke-dasharray="1.35 1.38"/>
<line x1="667.33" y1="1271.25" x2="667.33" y2="1770.75" stroke="#555" stroke-width="1.6" stroke-dasharray="1.35 1.38"/>
<line x1="779.4" y1="1271.25" x2="779.4" y2="1770.75" stroke="#555" stroke-width="1.6" stroke-dasharray="1.35 1.38"/>
<text x="583.8" y="1720.75" font-size="29" textLength="52.5" lengthAdjust="spacingAndGlyphs">rho:</text><text x="651" y="1720.75" font-size="29" font-weight="bold" textLength="68" lengthAdjust="spacingAndGlyphs">0,67</text><text x="583.8" y="1750.5" font-size="29" textLength="133" lengthAdjust="spacingAndGlyphs">P&lt;0,0001</text>
<circle cx="231.75" cy="1363.75" r="4.75"/>
<circle cx="127.5" cy="1451.75" r="4.75"/>
<circle cx="715.75" cy="1280.75" r="4.75"/>
<circle cx="610.75" cy="1569.25" r="4.75"/>
<circle cx="550" cy="1644.5" r="4.75"/>
<circle cx="323" cy="1526.2" r="4.75"/>
<circle cx="331.1" cy="1530.6" r="4.75"/>
<circle cx="329.7" cy="1533.2" r="4.75"/>
<circle cx="372.3" cy="1527.9" r="4.75"/>
<circle cx="301.2" cy="1538.5" r="4.75"/>
<circle cx="410.4" cy="1511.8" r="4.75"/>
<circle cx="420.1" cy="1514.7" r="4.75"/>
<circle cx="429.8" cy="1521.3" r="4.75"/>
<circle cx="453" cy="1520" r="4.75"/>
<circle cx="141" cy="1606" r="4.75"/>
<circle cx="149.6" cy="1619.5" r="4.75"/>
<circle cx="160.3" cy="1625.3" r="4.75"/>
<circle cx="203.4" cy="1600.7" r="4.75"/>
<circle cx="206.4" cy="1601.6" r="4.75"/>
<circle cx="181.8" cy="1628.8" r="4.75"/>
<circle cx="180" cy="1628" r="4.75"/>
<circle cx="198.5" cy="1625.3" r="4.75"/>
<circle cx="217.5" cy="1626.5" r="4.75"/>
<circle cx="214.3" cy="1628" r="4.75"/>
<circle cx="231" cy="1609.5" r="4.75"/>
<circle cx="233.1" cy="1612.5" r="4.75"/>
<circle cx="228.9" cy="1620" r="4.75"/>
<circle cx="233.1" cy="1626.2" r="4.75"/>
<circle cx="238.9" cy="1600.7" r="4.75"/>
<circle cx="241.5" cy="1611.5" r="4.75"/>
<circle cx="312.3" cy="1556.4" r="4.75"/>
<circle cx="320.2" cy="1560.8" r="4.75"/>
<circle cx="318" cy="1561.4" r="4.75"/>
<circle cx="325.7" cy="1550.1" r="4.75"/>
<circle cx="325.5" cy="1546.9" r="4.75"/>
<circle cx="308.1" cy="1567.7" r="4.75"/>
<circle cx="294.3" cy="1568.7" r="4.75"/>
<circle cx="295.3" cy="1576.2" r="4.75"/>
<circle cx="294.1" cy="1577.7" r="4.75"/>
<circle cx="269.6" cy="1572.9" r="4.75"/>
<circle cx="316.7" cy="1577.1" r="4.75"/>
<circle cx="323" cy="1578.3" r="4.75"/>
<circle cx="318.6" cy="1581.7" r="4.75"/>
<circle cx="332" cy="1573.5" r="4.75"/>
<circle cx="329.2" cy="1584" r="4.75"/>
<circle cx="245.1" cy="1595" r="4.75"/>
<circle cx="276.5" cy="1589" r="4.75"/>
<circle cx="272.1" cy="1594" r="4.75"/>
<circle cx="277.7" cy="1594.7" r="4.75"/>
<circle cx="287.8" cy="1590.7" r="4.75"/>
<circle cx="274" cy="1599.1" r="4.75"/>
<circle cx="279" cy="1599.1" r="4.75"/>
<circle cx="285" cy="1602.8" r="4.75"/>
<circle cx="307.9" cy="1590.3" r="4.75"/>
<circle cx="305.4" cy="1602.2" r="4.75"/>
<circle cx="297.8" cy="1604.7" r="4.75"/>
<circle cx="317.7" cy="1599.1" r="4.75"/>
<circle cx="326.1" cy="1601.6" r="4.75"/>
<circle cx="315.4" cy="1607.6" r="4.75"/>
<circle cx="260.2" cy="1608.5" r="4.75"/>
<circle cx="266.4" cy="1610.4" r="4.75"/>
<circle cx="272.7" cy="1610.1" r="4.75"/>
<circle cx="287.2" cy="1611" r="4.75"/>
<circle cx="260.8" cy="1617" r="4.75"/>
<circle cx="257.6" cy="1620.8" r="4.75"/>
<circle cx="257" cy="1622" r="4.75"/>
<circle cx="266.8" cy="1628.9" r="4.75"/>
<circle cx="285.9" cy="1618.9" r="4.75"/>
<circle cx="296" cy="1617" r="4.75"/>
<circle cx="329.2" cy="1623.9" r="4.75"/>
<circle cx="231.9" cy="1640.2" r="4.75"/>
<circle cx="274" cy="1640.2" r="4.75"/>
<circle cx="283.4" cy="1644" r="4.75"/>
<circle cx="258.9" cy="1651.3" r="4.75"/>
<circle cx="270.8" cy="1653.8" r="4.75"/>
<circle cx="282.5" cy="1652.8" r="4.75"/>
<circle cx="287.8" cy="1661.6" r="4.75"/>
<circle cx="284" cy="1668.5" r="4.75"/>
<circle cx="282.1" cy="1667.2" r="4.75"/>
<circle cx="298.5" cy="1667.6" r="4.75"/>
<circle cx="264.5" cy="1676" r="4.75"/>
<circle cx="375" cy="1543.2" r="4.75"/>
<circle cx="357.4" cy="1547" r="4.75"/>
<circle cx="357.4" cy="1552.6" r="4.75"/>
<circle cx="385.3" cy="1551.4" r="4.75"/>
<circle cx="382.8" cy="1553.2" r="4.75"/>
<circle cx="399.7" cy="1549.5" r="4.75"/>
<circle cx="401" cy="1553.2" r="4.75"/>
<circle cx="407.9" cy="1547.6" r="4.75"/>
<circle cx="411.1" cy="1552.6" r="4.75"/>
<circle cx="423" cy="1540.7" r="4.75"/>
<circle cx="333.8" cy="1556.4" r="4.75"/>
<circle cx="351.4" cy="1562" r="4.75"/>
<circle cx="354.9" cy="1565.2" r="4.75"/>
<circle cx="396" cy="1560.8" r="4.75"/>
<circle cx="413.6" cy="1560.8" r="4.75"/>
<circle cx="336.9" cy="1575.9" r="4.75"/>
<circle cx="350.1" cy="1575.9" r="4.75"/>
<circle cx="357" cy="1578.4" r="4.75"/>
<circle cx="363.3" cy="1573.3" r="4.75"/>
<circle cx="370.9" cy="1575.9" r="4.75"/>
<circle cx="392.8" cy="1574.6" r="4.75"/>
<circle cx="399.7" cy="1574.6" r="4.75"/>
<circle cx="417.3" cy="1578.4" r="4.75"/>
<circle cx="349.5" cy="1580.9" r="4.75"/>
<circle cx="334.4" cy="1586.5" r="4.75"/>
<circle cx="353.9" cy="1586.5" r="4.75"/>
<circle cx="358.7" cy="1586.8" r="4.75"/>
<circle cx="344.5" cy="1593.4" r="4.75"/>
<circle cx="352" cy="1597.8" r="4.75"/>
<circle cx="347" cy="1601" r="4.75"/>
<circle cx="354.5" cy="1621.1" r="4.75"/>
<circle cx="351.8" cy="1644.3" r="4.75"/>
<circle cx="368.3" cy="1670.3" r="4.75"/>
<circle cx="428.4" cy="1543.1" r="4.75"/>
<circle cx="456.9" cy="1550.1" r="4.75"/>
<circle cx="439.3" cy="1574.7" r="4.75"/>
<circle cx="456.1" cy="1576" r="4.75"/>
<circle cx="144" cy="1644.1" r="4.75"/>
<circle cx="183.5" cy="1641.4" r="4.75"/>
<circle cx="215.2" cy="1641.4" r="4.75"/>
<circle cx="221.9" cy="1647.1" r="4.75"/>
<circle cx="203.8" cy="1653.7" r="4.75"/>
<circle cx="205.5" cy="1656.4" r="4.75"/>
<circle cx="210.8" cy="1657.8" r="4.75"/>
<circle cx="176.9" cy="1660.8" r="4.75"/>
<circle cx="177.9" cy="1672.7" r="4.75"/>
<circle cx="151" cy="1677.1" r="4.75"/>
<circle cx="147.8" cy="1682.4" r="4.75"/>
<circle cx="220.5" cy="1674.5" r="4.75"/>
<circle cx="171.2" cy="1691" r="4.75"/>
<circle cx="206.8" cy="1686.6" r="4.75"/>
<circle cx="210.8" cy="1697.7" r="4.75"/>
<circle cx="206.75" cy="1738.75" r="4.75"/>
<circle cx="252" cy="1697.5" r="4.75"/>
<circle cx="290.5" cy="1693.75" r="4.75"/>
<circle cx="285" cy="1716.75" r="4.75"/>
<circle cx="332.9" cy="1704.5" r="4.75"/>
<polyline points="128.2,1671.41 136.26,1667.75 144.33,1664.11 152.39,1660.48 160.46,1656.86 168.52,1653.25 176.59,1649.66 184.65,1646.08 192.72,1642.51 200.78,1638.96 208.84,1635.42 216.91,1631.89 224.97,1628.37 233.04,1624.87 241.1,1621.38 249.17,1617.91 257.23,1614.44 265.29,1610.99 273.36,1607.56 281.42,1604.13 289.49,1600.72 297.55,1597.32 305.62,1593.94 313.68,1590.57 321.75,1587.21 329.81,1583.86 337.87,1580.53 345.94,1577.21 354,1573.9 362.07,1570.61 370.13,1567.32 378.2,1564.06 386.26,1560.8 394.32,1557.56 402.39,1554.33 410.45,1551.11 418.52,1547.91 426.58,1544.72 434.65,1541.54 442.71,1538.38 450.78,1535.23 458.84,1532.09 466.9,1528.96 474.97,1525.85 483.03,1522.75 491.1,1519.67 499.16,1516.59 507.23,1513.53 515.29,1510.48 523.35,1507.45 531.42,1504.43 539.48,1501.42 547.55,1498.42 555.61,1495.44 563.68,1492.47 571.74,1489.52 579.81,1486.57 587.87,1483.64 595.93,1480.72 604,1477.82 612.06,1474.93 620.13,1472.05 628.19,1469.18 636.26,1466.33 644.32,1463.49 652.38,1460.66 660.45,1457.85 668.51,1455.05 676.58,1452.26 684.64,1449.49 692.71,1446.73 700.77,1443.98 708.84,1441.24 716.9,1438.52" fill="none" stroke="#1a1a1a" stroke-width="1.4"/>
<line x1="93.25" y1="1266.75" x2="93.25" y2="1785.05" stroke="#000" stroke-width="2.6"/>
<line x1="91.95" y1="1783.75" x2="794.5" y2="1783.75" stroke="#000" stroke-width="2.6"/>
<line x1="93.25" y1="1770.75" x2="107.6" y2="1770.75" stroke="#000" stroke-width="2.3"/>
<line x1="93.25" y1="1689.17" x2="107.6" y2="1689.17" stroke="#000" stroke-width="2.3"/>
<line x1="93.25" y1="1607.58" x2="107.6" y2="1607.58" stroke="#000" stroke-width="2.3"/>
<line x1="93.25" y1="1526" x2="107.6" y2="1526" stroke="#000" stroke-width="2.3"/>
<line x1="93.25" y1="1444.42" x2="107.6" y2="1444.42" stroke="#000" stroke-width="2.3"/>
<line x1="93.25" y1="1362.83" x2="107.6" y2="1362.83" stroke="#000" stroke-width="2.3"/>
<line x1="93.25" y1="1281.25" x2="107.6" y2="1281.25" stroke="#000" stroke-width="2.3"/>
<line x1="107" y1="1783.75" x2="107" y2="1770.15" stroke="#000" stroke-width="2.3"/>
<line x1="219.07" y1="1783.75" x2="219.07" y2="1770.15" stroke="#000" stroke-width="2.3"/>
<line x1="331.13" y1="1783.75" x2="331.13" y2="1770.15" stroke="#000" stroke-width="2.3"/>
<line x1="443.2" y1="1783.75" x2="443.2" y2="1770.15" stroke="#000" stroke-width="2.3"/>
<line x1="555.27" y1="1783.75" x2="555.27" y2="1770.15" stroke="#000" stroke-width="2.3"/>
<line x1="667.33" y1="1783.75" x2="667.33" y2="1770.15" stroke="#000" stroke-width="2.3"/>
<line x1="779.4" y1="1783.75" x2="779.4" y2="1770.15" stroke="#000" stroke-width="2.3"/>
<text x="85.3" y="1775.35" text-anchor="end" class="tk" textLength="33.2" lengthAdjust="spacingAndGlyphs">-1.0</text>
<text x="85.3" y="1693.77" text-anchor="end" class="tk" textLength="33.2" lengthAdjust="spacingAndGlyphs">-0.5</text>
<text x="85.3" y="1612.18" text-anchor="end" class="tk" textLength="26.7" lengthAdjust="spacingAndGlyphs">0.0</text>
<text x="85.3" y="1530.6" text-anchor="end" class="tk" textLength="26.7" lengthAdjust="spacingAndGlyphs">0.5</text>
<text x="85.3" y="1449.02" text-anchor="end" class="tk" textLength="26.7" lengthAdjust="spacingAndGlyphs">1.0</text>
<text x="85.3" y="1367.43" text-anchor="end" class="tk" textLength="26.7" lengthAdjust="spacingAndGlyphs">1.5</text>
<text x="85.3" y="1285.85" text-anchor="end" class="tk" textLength="26.7" lengthAdjust="spacingAndGlyphs">2.0</text>
<text x="107" y="1806" text-anchor="middle" class="tk" textLength="26.7" lengthAdjust="spacingAndGlyphs">0.0</text>
<text x="219.07" y="1806" text-anchor="middle" class="tk" textLength="26.7" lengthAdjust="spacingAndGlyphs">0.5</text>
<text x="331.13" y="1806" text-anchor="middle" class="tk" textLength="26.7" lengthAdjust="spacingAndGlyphs">1.0</text>
<text x="443.2" y="1806" text-anchor="middle" class="tk" textLength="26.7" lengthAdjust="spacingAndGlyphs">1.5</text>
<text x="555.27" y="1806" text-anchor="middle" class="tk" textLength="26.7" lengthAdjust="spacingAndGlyphs">2.0</text>
<text x="667.33" y="1806" text-anchor="middle" class="tk" textLength="26.7" lengthAdjust="spacingAndGlyphs">2.5</text>
<text x="779.4" y="1806" text-anchor="middle" class="tk" textLength="26.7" lengthAdjust="spacingAndGlyphs">3.0</text>
<text transform="translate(31,1661.3) rotate(-90)" x="0" y="0" class="ttl" style="font-size:19.5px" textLength="273.4" lengthAdjust="spacingAndGlyphs">Delayed-phase enhancement</text>
<text x="316" y="1837" class="ttl" textLength="253" lengthAdjust="spacingAndGlyphs">Initial-phase enhancement</text>
</svg>
</body></html>
